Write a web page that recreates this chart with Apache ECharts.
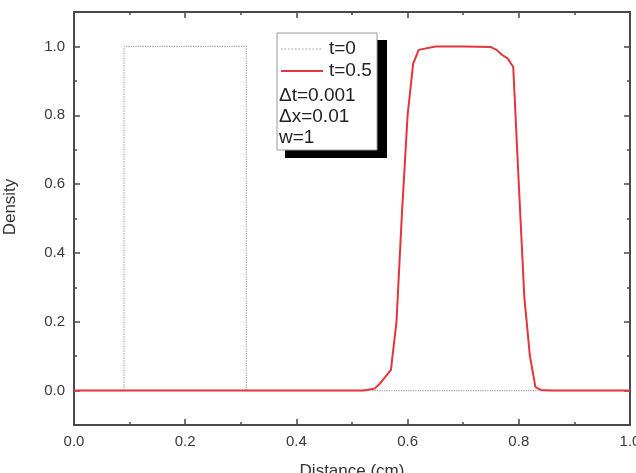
<!DOCTYPE html>
<html>
<head>
<meta charset="utf-8">
<script src="https://cdn.jsdelivr.net/npm/echarts@6/dist/echarts.min.js"></script>
<style>
  html, body { margin: 0; padding: 0; background: #fff; }
  #chart { width: 636px; height: 473px; }
</style>
</head>
<body>
<div id="chart"></div>
<script>
// initial profile, t=0 (square pulse)
const t0X = [0, 0.09, 0.09, 0.31, 0.31, 1.0]
const t0Y = [0, 0, 1, 1, 0, 0]

// profile at t=0.5
const t05X = [0, 0.52, 0.54, 0.55, 0.56, 0.57, 0.58, 0.59, 0.60, 0.61, 0.62, 0.65, 0.70, 0.75, 0.76, 0.77, 0.78, 0.79, 0.80, 0.81, 0.82, 0.83, 0.84, 0.86, 1.0]
const t05Y = [0, 0, 0.005, 0.02, 0.04, 0.06, 0.2, 0.52, 0.8, 0.95, 0.99, 1.0, 1.0, 0.998, 0.99, 0.975, 0.965, 0.94, 0.6, 0.27, 0.1, 0.01, 0.002, 0, 0]

const yTicks = [0, 0.2, 0.4, 0.6, 0.8, 1.0]
const yMinorTicks = [0.1, 0.3, 0.5, 0.7, 0.9]
const notes = ['\u0394t=0.001', '\u0394x=0.01', 'w=1']

const font = 'Liberation Sans, Arial, sans-serif'
const axisColor = '#4a4a4a'
const grayColor = '#a0a0a0'
const redColor = '#e3353b'

const zip = (xs, ys) => xs.map((x, i) => [x, ys[i]])

const chart = echarts.init(document.getElementById('chart'))

const xBase = {
  type: 'value',
  min: 0,
  max: 1,
  interval: 0.2,
  axisLine: { show: true, onZero: false, lineStyle: { color: axisColor, width: 1.8 } },
  axisTick: { inside: true, length: 6, lineStyle: { color: axisColor, width: 1.5 } },
  minorTick: { show: true, splitNumber: 2, length: 3, lineStyle: { color: axisColor, width: 1.5 } },
  splitLine: { show: false },
  minorSplitLine: { show: false },
}

const yBase = (pos, ticks, len, showLabel) => ({
  type: 'value',
  position: pos,
  min: -0.1,
  max: 1.1,
  axisLine: { show: true, onZero: false, lineStyle: { color: axisColor, width: 1.8 } },
  axisTick: { inside: true, length: len, customValues: ticks, lineStyle: { color: axisColor, width: 1.5 } },
  axisLabel: showLabel
    ? { customValues: ticks, formatter: v => v.toFixed(1), color: '#3a3a3a', fontSize: 15, fontFamily: font, margin: 9 }
    : { show: false },
  splitLine: { show: false },
})

// legend rows: sample line + label
const legendRows = [
  { label: 't=0', color: grayColor, width: 1.2, dash: 'dotted', y: 49 },
  { label: 't=0.5', color: redColor, width: 2, dash: 'solid', y: 71 },
]

const option = {
  animation: false,
  backgroundColor: '#fff',
  grid: { left: 74, right: 6, top: 12, bottom: 48, outerBoundsMode: 'none' },
  xAxis: [
    {
      ...xBase,
      position: 'bottom',
      axisLabel: { color: '#3a3a3a', fontSize: 15, fontFamily: font, margin: 9, formatter: v => v.toFixed(1) },
      name: 'Distance (cm)',
      nameLocation: 'middle',
      nameGap: 38,
      nameTextStyle: { color: '#333', fontSize: 17, fontFamily: font },
    },
    { ...xBase, position: 'top', axisLabel: { show: false } },
  ],
  yAxis: [
    yBase('left', yTicks, 6, true),
    yBase('left', yMinorTicks, 3, false),
    yBase('right', yTicks, 6, false),
    yBase('right', yMinorTicks, 3, false),
  ],
  graphic: [
    // legend shadow and box
    { type: 'rect', z: 8, shape: { x: 285, y: 40, width: 102, height: 118 }, style: { fill: '#000' } },
    { type: 'rect', z: 9, shape: { x: 277, y: 33, width: 100, height: 117 }, style: { fill: '#fff', stroke: '#999', lineWidth: 1 } },
    ...legendRows.map(r => ({
      type: 'line', z: 10,
      shape: { x1: 281, y1: r.y, x2: 323, y2: r.y },
      style: { stroke: r.color, lineWidth: r.width, lineDash: r.dash === 'dotted' ? [1.5, 2] : null },
    })),
    ...legendRows.map(r => ({
      type: 'text', z: 10, x: 329, y: r.y,
      style: { text: r.label, font: '19px ' + font, fill: '#222', verticalAlign: 'middle' },
    })),
    ...notes.map((t, i) => ({
      type: 'text', z: 10, x: 279, y: 96 + i * 21,
      style: { text: t, font: '19px ' + font, fill: '#222', verticalAlign: 'middle' },
    })),
    {
      type: 'text', z: 10, x: 10, y: 207, rotation: Math.PI / 2,
      style: { text: 'Density', font: '17px ' + font, fill: '#333', align: 'center', verticalAlign: 'middle' },
    },
  ],
  series: [
    {
      name: 't=0',
      type: 'line',
      data: zip(t0X, t0Y),
      symbol: 'none',
      lineStyle: { color: grayColor, width: 1.2, type: 'dotted' },
      z: 2,
    },
    {
      name: 't=0.5',
      type: 'line',
      data: zip(t05X, t05Y),
      symbol: 'none',
      lineStyle: { color: redColor, width: 2 },
      z: 3,
    },
  ],
}

chart.setOption(option)
</script>
</body>
</html>
